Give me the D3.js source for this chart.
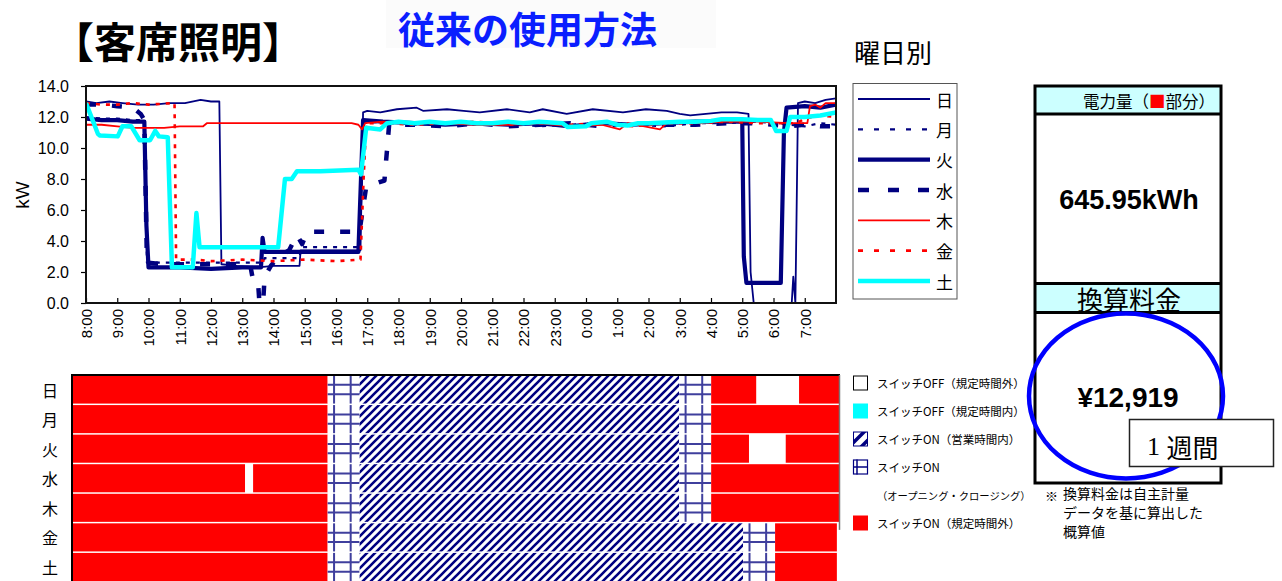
<!DOCTYPE html>
<html><head><meta charset="utf-8">
<script src="https://cdn.jsdelivr.net/npm/d3@7"></script>
<style>
body{margin:0;background:#fff}
svg text{font-family:"Noto Sans CJK JP","Noto Sans",sans-serif}
.num{font-family:"Liberation Sans",Arial,sans-serif}
</style>
</head><body>
<svg id="c" width="1282" height="581"></svg>
<script>
// ---- data -------------------------------------------------------------
const days = ["日","月","火","水","木","金","土"];
const hourLabels = d3.range(24).map(i => ((i + 8) % 24) + ":00");
const yTicks = [0, 2, 4, 6, 8, 10, 12, 14];

// kW readings per weekday, [time, kW], one day from 8:00 to 8:00
const sun = [["8:00",13.0],["8:20",12.9],["8:45",13.0],["9:10",12.9],["9:40",12.8],["10:10",12.8],["10:40",12.9],["11:10",12.9],["11:40",13.1],["12:00",13.0],["12:16",13.0],["12:20",2.5],["12:50",2.4],["13:30",2.3],["14:00",2.4],["14:50",2.4],["14:52",3.4],["16:00",3.4],["16:47",3.4],["16:52",12.3],["17:00",12.4],["17:25",12.3],["17:57",12.5],["18:35",12.6],["18:47",12.4],["19:33",12.5],["20:05",12.4],["20:36",12.3],["21:28",12.5],["22:12",12.3],["22:37",12.5],["23:23",12.2],["0:13",12.5],["1:11",12.3],["1:55",12.5],["2:35",12.4],["3:00",12.2],["3:20",12.1],["3:50",12.2],["4:20",12.3],["4:50",12.3],["5:12",12.2],["5:16",2.0],["5:22",0.0],["6:35",0.0],["6:38",1.7],["6:42",0.0],["6:44",5.0],["6:47",12.9],["7:00",13.0],["7:20",12.9],["7:40",13.1],["8:00",13.2]];
const mon = [["8:00",12.0],["8:30",11.9],["9:00",11.9],["9:30",11.8],["9:52",11.8],["9:57",2.6],["10:30",2.6],["11:30",2.6],["12:30",2.6],["13:40",2.6],["13:43",2.9],["14:50",2.9],["14:53",3.6],["15:30",3.6],["16:45",3.6],["16:52",11.6],["17:30",11.7],["18:30",11.5],["19:30",11.6],["20:30",11.5],["21:30",11.6],["22:30",11.4],["23:30",11.5],["0:30",11.6],["1:30",11.5],["2:30",11.4],["3:30",11.6],["4:30",11.6],["5:30",11.7],["6:30",11.5],["7:00",11.4],["7:30",11.6],["8:00",11.5]];
const tue = [["8:00",11.9],["8:30",11.8],["9:00",11.8],["9:30",11.7],["9:52",11.7],["9:56",5.0],["10:00",2.3],["11:00",2.3],["12:00",2.2],["13:00",2.3],["13:36",2.3],["13:39",4.2],["13:43",3.3],["15:00",3.3],["16:43",3.3],["16:52",11.8],["17:30",11.7],["18:30",11.6],["19:30",11.5],["20:30",11.6],["21:30",11.5],["22:30",11.6],["23:30",11.4],["0:30",11.6],["1:30",11.5],["2:30",11.6],["3:30",11.7],["4:30",11.7],["5:00",11.7],["5:03",3.0],["5:08",1.3],["6:14",1.3],["6:20",11.0],["6:25",12.6],["7:00",12.7],["7:30",12.6],["8:00",12.8]];
const wed = [["8:00",12.8],["8:30",12.8],["9:00",12.7],["9:30",12.6],["9:45",12.2],["9:52",11.8],["9:57",2.6],["10:30",2.5],["11:30",2.5],["12:30",2.5],["13:15",2.5],["13:20",1.6],["13:30",1.5],["13:33",0.0],["13:40",0.0],["13:43",1.7],["13:55",2.4],["14:10",3.0],["14:30",3.4],["14:45",4.4],["14:55",3.8],["15:05",4.6],["16:45",4.6],["16:58",7.5],["17:33",7.9],["17:42",11.5],["18:30",11.5],["19:30",11.4],["20:30",11.6],["21:30",11.4],["22:30",11.5],["23:30",11.6],["0:30",11.4],["1:30",11.6],["2:30",11.5],["3:30",11.5],["4:30",11.6],["5:30",11.6],["6:30",11.4],["7:00",11.5],["7:30",11.4],["8:00",11.4]];
const thu = [["8:00",11.5],["8:30",11.5],["9:00",11.4],["9:30",11.3],["10:00",11.3],["10:30",11.3],["11:00",11.4],["11:45",11.4],["11:52",11.6],["12:30",11.6],["13:30",11.6],["14:30",11.6],["15:30",11.6],["16:30",11.6],["16:43",11.5],["16:50",11.2],["16:56",11.6],["17:30",11.7],["18:30",11.6],["19:30",11.6],["20:30",11.5],["21:30",11.5],["22:30",11.6],["23:30",11.4],["0:30",11.5],["1:05",11.2],["1:20",11.6],["2:22",11.2],["2:35",11.6],["3:30",11.6],["4:30",11.7],["5:30",11.7],["6:30",11.6],["7:05",11.6],["7:10",12.7],["7:20",12.8],["7:30",12.6],["7:40",12.9],["8:00",12.9]];
const fri = [["8:00",12.9],["8:30",12.8],["9:00",12.8],["9:30",12.9],["10:00",12.8],["10:50",12.9],["10:53",2.8],["11:30",2.8],["12:00",2.7],["13:00",2.8],["14:00",2.7],["15:00",2.8],["16:00",2.7],["16:47",2.8],["16:53",8.0],["16:58",11.6],["17:30",11.6],["18:30",11.5],["19:30",11.6],["20:30",11.7],["21:30",11.5],["22:30",11.6],["23:30",11.5],["0:30",11.6],["1:30",11.4],["2:30",11.6],["3:30",11.6],["4:30",11.7],["5:30",11.6],["6:45",11.6],["7:00",11.9],["7:30",12.1],["8:00",12.0]];
const sat = [["8:00",12.9],["8:23",10.9],["8:27",10.8],["9:01",10.75],["9:10",11.4],["9:27",11.4],["9:43",10.5],["10:03",10.5],["10:13",11.1],["10:20",10.75],["10:37",10.7],["10:45",2.3],["11:25",2.3],["11:32",5.8],["11:38",3.6],["12:30",3.6],["13:30",3.6],["14:09",3.6],["14:22",8.0],["14:35",8.0],["14:45",8.5],["15:30",8.5],["16:43",8.6],["16:48",8.3],["16:58",11.3],["17:25",11.2],["17:38",11.6],["18:00",11.7],["18:30",11.6],["19:00",11.7],["19:30",11.6],["20:00",11.7],["20:30",11.6],["21:00",11.6],["21:30",11.7],["22:00",11.6],["22:30",11.7],["23:15",11.6],["23:25",11.35],["0:00",11.4],["0:10",11.6],["0:40",11.7],["1:00",11.5],["1:20",11.45],["1:40",11.6],["2:00",11.6],["2:30",11.65],["3:00",11.7],["3:30",11.7],["4:00",11.75],["4:20",11.85],["5:00",11.85],["5:30",11.8],["5:55",11.8],["6:05",11.1],["6:25",11.1],["6:32",12.0],["7:00",12.0],["7:30",12.1],["8:00",12.3]];
const seriesData = [sun, mon, tue, wed, thu, fri, sat];

// switch state per weekday: [from, to, state]
const sunState = [["8:00","16:00","onOut"],["16:00","17:00","onOC"],["17:00","3:00","onBiz"],["3:00","4:00","onOC"],["4:00","5:25","onOut"],["5:25","6:45","offOut"],["6:45","8:00","onOut"]];
const monState = [["8:00","16:00","onOut"],["16:00","17:00","onOC"],["17:00","3:00","onBiz"],["3:00","4:00","onOC"],["4:00","8:00","onOut"]];
const tueState = [["8:00","16:00","onOut"],["16:00","17:00","onOC"],["17:00","3:00","onBiz"],["3:00","4:00","onOC"],["4:00","5:11","onOut"],["5:11","6:20","offOut"],["6:20","8:00","onOut"]];
const wedState = [["8:00","13:25","onOut"],["13:25","13:40","offOut"],["13:40","16:00","onOut"],["16:00","17:00","onOC"],["17:00","3:00","onBiz"],["3:00","4:00","onOC"],["4:00","8:00","onOut"]];
const thuState = [["8:00","16:00","onOut"],["16:00","17:00","onOC"],["17:00","3:00","onBiz"],["3:00","4:00","onOC"],["4:00","8:00","onOut"]];
const friState = [["8:00","16:00","onOut"],["16:00","17:00","onOC"],["17:00","5:00","onBiz"],["5:00","6:00","onOC"],["6:00","7:56","onOut"]];
const satState = [["8:00","16:00","onOut"],["16:00","17:00","onOC"],["17:00","5:00","onBiz"],["5:00","6:00","onOC"],["6:00","7:56","onOut"]];
const stateData = [sunState, monState, tueState, wedState, thuState, friState, satState];

const stateLegend = [
  ["offOut","スイッチOFF（規定時間外）"],
  ["offIn","スイッチOFF（規定時間内）"],
  ["onBiz","スイッチON（営業時間内）"],
  ["onOC","スイッチON"],
  [null,"（オープニング・クロージング）"],
  ["onOut","スイッチON（規定時間外）"]
];

const energyText = "645.95kWh";
const costText = "¥12,919";
const noteLines = ["換算料金は自主計量","データを基に算出した","概算値"];

// ---- helpers ----------------------------------------------------------
function hoursFrom8(t) {
  const [h, m] = t.split(":").map(Number);
  let v = h + m / 60 - 8;
  if (v < 0) v += 24;
  return v;
}
function toPoints(arr) {
  let prev = -1;
  return arr.map(([t, kw]) => {
    let h = hoursFrom8(t);
    if (h < prev) h += 24;
    prev = h;
    return {h, kw};
  });
}

// ---- line styles --------------------------------------------------------
const NAVY = "#000080";
const styles = [
  {color: NAVY, width: 1.8, dash: null},
  {color: NAVY, width: 2.2, dash: "4,6"},
  {color: NAVY, width: 4.2, dash: null},
  {color: NAVY, width: 4.5, dash: "10,16"},
  {color: "#ff0000", width: 1.8, dash: null},
  {color: "#ff0000", width: 2.6, dash: "4,6"},
  {color: "#00ffff", width: 4.5, dash: null}
];

const svg = d3.select("#c");
const defs = svg.append("defs");

// ---- titles -----------------------------------------------------------
svg.append("rect").attr("x", 386).attr("y", 0).attr("width", 330).attr("height", 48).attr("fill", "#fbfbfb");
svg.append("text").attr("x", 52).attr("y", 39).attr("dominant-baseline", "central")
  .attr("font-size", 42).attr("font-weight", "bold").text("【客席照明】");
svg.append("text").attr("x", 398).attr("y", 28).attr("dominant-baseline", "central")
  .attr("font-size", 37).attr("font-weight", "bold").attr("fill", "#0a1eff").text("従来の使用方法");
svg.append("text").attr("x", 854).attr("y", 51).attr("dominant-baseline", "central")
  .attr("font-size", 26).text("曜日別");

// ---- line chart -------------------------------------------------------
const x = d3.scaleLinear().domain([0, 24]).range([86, 836]);
const y = d3.scaleLinear().domain([0, 14]).range([303, 86]);

defs.append("clipPath").attr("id", "plotClip").append("rect")
  .attr("x", 86).attr("y", 86).attr("width", 750).attr("height", 217);

const line = d3.line().x(d => x(d.h)).y(d => y(d.kw));
const lines = svg.append("g").attr("clip-path", "url(#plotClip)");
seriesData.forEach((s, i) => {
  const st = styles[i];
  lines.append("path").datum(toPoints(s))
    .attr("d", line).attr("fill", "none")
    .attr("stroke", st.color).attr("stroke-width", st.width)
    .attr("stroke-dasharray", st.dash).attr("stroke-linejoin", "round");
});

const xAxis = svg.append("g").attr("transform", "translate(0,303)")
  .call(d3.axisBottom(x).tickValues(d3.range(24)).tickSizeInner(-5).tickSizeOuter(0)
    .tickFormat(i => hourLabels[i]));
xAxis.select(".domain").remove();
xAxis.selectAll("line").attr("stroke", "#000").attr("stroke-width", 1.2);
xAxis.selectAll("text").attr("class", "num").attr("font-size", 15).attr("fill", "#000")
  .attr("transform", "rotate(-90)").attr("text-anchor", "end")
  .attr("x", -6).attr("y", 0).attr("dy", "0.35em");

const yAxis = svg.append("g").attr("transform", "translate(86,0)")
  .call(d3.axisLeft(y).tickValues(yTicks).tickSize(5).tickPadding(12).tickFormat(d3.format(".1f")));
yAxis.select(".domain").remove();
yAxis.selectAll("line").attr("stroke", "#000").attr("stroke-width", 1.2);
yAxis.selectAll("text").attr("class", "num").attr("font-size", 16).attr("fill", "#000");

svg.append("rect").attr("x", 86).attr("y", 86).attr("width", 750).attr("height", 217)
  .attr("fill", "none").attr("stroke", "#111").attr("stroke-width", 2);

svg.append("text").attr("class", "num").attr("transform", "translate(22,195) rotate(-90)")
  .attr("text-anchor", "middle").attr("dominant-baseline", "central")
  .attr("font-size", 19).text("kW");

// series legend
const leg = svg.append("g");
leg.append("rect").attr("x", 853).attr("y", 83.5).attr("width", 104).attr("height", 215.5)
  .attr("fill", "#fff").attr("stroke", "#555").attr("stroke-width", 1);
const legY = d3.scalePoint().domain(days).range([99, 281]);
days.forEach((d, i) => {
  const st = styles[i];
  leg.append("line").attr("x1", 858).attr("x2", 930).attr("y1", legY(d)).attr("y2", legY(d))
    .attr("stroke", st.color).attr("stroke-width", st.width)
    .attr("stroke-dasharray", st.dash === "10,16" ? "11,19" : st.dash === "4,6" ? "5,11" : null);
  leg.append("text").attr("x", 936).attr("y", legY(d)).attr("dominant-baseline", "central")
    .attr("font-size", 17).text(d);
});

// ---- switch state strip ------------------------------------------------
const hx = d3.scaleLinear().domain([0, 24]).range([72, 839]);
const row = d3.scaleBand().domain(days).range([375.5, 581]).paddingInner(0.05);

const hatch = defs.append("pattern").attr("id", "hatch").attr("patternUnits", "userSpaceOnUse")
  .attr("width", 8).attr("height", 8);
hatch.append("rect").attr("width", 8).attr("height", 8).attr("fill", "#fff");
hatch.append("path").attr("d", "M-2,2 L2,-2 M0,8 L8,0 M6,10 L10,6")
  .attr("stroke", NAVY).attr("stroke-width", 2.6);

const hatchBig = defs.append("pattern").attr("id", "hatchBig").attr("patternUnits", "userSpaceOnUse")
  .attr("width", 12).attr("height", 12);
hatchBig.append("rect").attr("width", 12).attr("height", 12).attr("fill", "#fff");
hatchBig.append("path").attr("d", "M-3,3 L3,-3 M0,12 L12,0 M9,15 L15,9")
  .attr("stroke", NAVY).attr("stroke-width", 3.5);

const fillOf = {onOut: "#ff0000", offOut: "#fff", offIn: "#00ffff", onBiz: "url(#hatch)", onOC: "#fff"};
const strip = svg.append("g");
stateData.forEach((segs, i) => {
  const d = days[i];
  const y0 = row(d), bh = row.bandwidth();
  segs.forEach(([a, b, st]) => {
    const h0 = hoursFrom8(a);
    let h1 = hoursFrom8(b);
    if (h1 <= h0) h1 += 24;
    const x0 = hx(h0), x1 = hx(h1), w = x1 - x0;
    strip.append("rect").attr("x", x0).attr("y", y0).attr("width", w).attr("height", bh)
      .attr("fill", fillOf[st]);
    if (st === "onOC") {
      const g = strip.append("g").attr("stroke", "#1e1e8c").attr("stroke-width", 2).attr("opacity", 0.85);
      [0.2, 0.72].forEach(f => g.append("line").attr("x1", x0 + w * f).attr("x2", x0 + w * f)
        .attr("y1", y0).attr("y2", y0 + bh));
      [1 / 3, 2 / 3].forEach(f => g.append("line").attr("x1", x0).attr("x2", x1)
        .attr("y1", y0 + bh * f).attr("y2", y0 + bh * f));
    }
  });
  svg.append("text").attr("x", 50).attr("y", y0 + bh / 2).attr("text-anchor", "middle")
    .attr("dominant-baseline", "central").attr("font-size", 16).text(d);
});
svg.append("line").attr("x1", 71).attr("x2", 840).attr("y1", 375).attr("y2", 375)
  .attr("stroke", "#000").attr("stroke-width", 2);
svg.append("line").attr("x1", 72).attr("x2", 72).attr("y1", 374).attr("y2", 581)
  .attr("stroke", "#000").attr("stroke-width", 2);
svg.append("line").attr("x1", 839.5).attr("x2", 839.5).attr("y1", 375).attr("y2", row("木") + row.bandwidth() + 8)
  .attr("stroke", "#777").attr("stroke-width", 1.5);

// state legend
const sl = svg.append("g");
const slY = d3.scalePoint().domain(d3.range(stateLegend.length)).range([383, 523]);
stateLegend.forEach(([st, label], i) => {
  const cy = slY(i);
  if (st) {
    const bx = 853, by = cy - 7.5, s = 15;
    if (st === "offOut") sl.append("rect").attr("x", bx + 0.5).attr("y", by + 0.5).attr("width", s - 1).attr("height", s - 1)
      .attr("fill", "#fff").attr("stroke", "#000").attr("stroke-width", 1);
    if (st === "offIn") sl.append("rect").attr("x", bx).attr("y", by).attr("width", s).attr("height", s).attr("fill", "#00ffff");
    if (st === "onOut") sl.append("rect").attr("x", bx).attr("y", by).attr("width", s).attr("height", s).attr("fill", "#ff0000");
    if (st === "onBiz") sl.append("rect").attr("x", bx + 0.5).attr("y", by + 0.5).attr("width", s - 1).attr("height", s - 1)
      .attr("fill", "url(#hatchBig)").attr("stroke", NAVY).attr("stroke-width", 1);
    if (st === "onOC") {
      sl.append("rect").attr("x", bx + 0.5).attr("y", by + 0.5).attr("width", s - 1).attr("height", s - 1)
        .attr("fill", "#fff").attr("stroke", NAVY).attr("stroke-width", 1.2);
      sl.append("line").attr("x1", bx + 4).attr("x2", bx + 4).attr("y1", by).attr("y2", by + s)
        .attr("stroke", NAVY).attr("stroke-width", 1.5);
      sl.append("line").attr("x1", bx).attr("x2", bx + s).attr("y1", by + s / 2).attr("y2", by + s / 2)
        .attr("stroke", NAVY).attr("stroke-width", 1.5);
    }
  }
  sl.append("text").attr("x", 877).attr("y", cy).attr("dominant-baseline", "central")
    .attr("font-size", st ? 11.5 : 10.3).text(label);
});

// ---- summary panel ----------------------------------------------------
const P = {x: 1035, y: 86, w: 186, h: 397, h1: 114, h2: 283.5, h3: 312.5};
svg.append("rect").attr("x", P.x).attr("y", P.y).attr("width", P.w).attr("height", P.h1 - P.y).attr("fill", "#ccffff");
svg.append("rect").attr("x", P.x).attr("y", P.h2).attr("width", P.w).attr("height", P.h3 - P.h2).attr("fill", "#ccffff");
svg.append("rect").attr("x", P.x).attr("y", P.y).attr("width", P.w).attr("height", P.h)
  .attr("fill", "none").attr("stroke", "#000").attr("stroke-width", 3);
[P.h1, P.h2, P.h3].forEach(yy => svg.append("line").attr("x1", P.x).attr("x2", P.x + P.w)
  .attr("y1", yy).attr("y2", yy).attr("stroke", "#000").attr("stroke-width", 3));

const t1 = svg.append("text").attr("x", 1215).attr("y", 100.5).attr("text-anchor", "end")
  .attr("dominant-baseline", "central").attr("font-size", 16.5);
t1.append("tspan").text("電力量（");
t1.append("tspan").attr("fill", "#ff0000").text("■");
t1.append("tspan").text("部分）");

svg.append("text").attr("class", "num").attr("x", 1129).attr("y", 200).attr("text-anchor", "middle")
  .attr("dominant-baseline", "central").attr("font-size", 27).attr("font-weight", "bold").text(energyText);
svg.append("text").attr("x", 1129).attr("y", 298).attr("text-anchor", "middle")
  .attr("dominant-baseline", "central").attr("font-size", 26).text("換算料金");
svg.append("text").attr("class", "num").attr("x", 1128).attr("y", 397).attr("text-anchor", "middle")
  .attr("dominant-baseline", "central").attr("font-size", 28).attr("font-weight", "bold").text(costText);

svg.append("ellipse").attr("cx", 1126).attr("cy", 396).attr("rx", 97).attr("ry", 82.5)
  .attr("fill", "none").attr("stroke", "#0000ff").attr("stroke-width", 4.5);

svg.append("rect").attr("x", 1129.5).attr("y", 419.5).attr("width", 144).attr("height", 47)
  .attr("fill", "#fff").attr("stroke", "#222").attr("stroke-width", 1.5);
const wk = svg.append("text").attr("x", 1147).attr("y", 446).attr("dominant-baseline", "central").attr("font-size", 26);
wk.append("tspan").attr("font-family", "Liberation Serif, serif").text("1 ");
wk.append("tspan").text("週間");

svg.append("text").attr("x", 1045).attr("y", 495).attr("dominant-baseline", "central")
  .attr("font-size", 13).text("※");
noteLines.forEach((s, i) => svg.append("text").attr("x", 1063).attr("y", 493 + i * 19)
  .attr("dominant-baseline", "central").attr("font-size", 14).text(s));
</script>
</body></html>
